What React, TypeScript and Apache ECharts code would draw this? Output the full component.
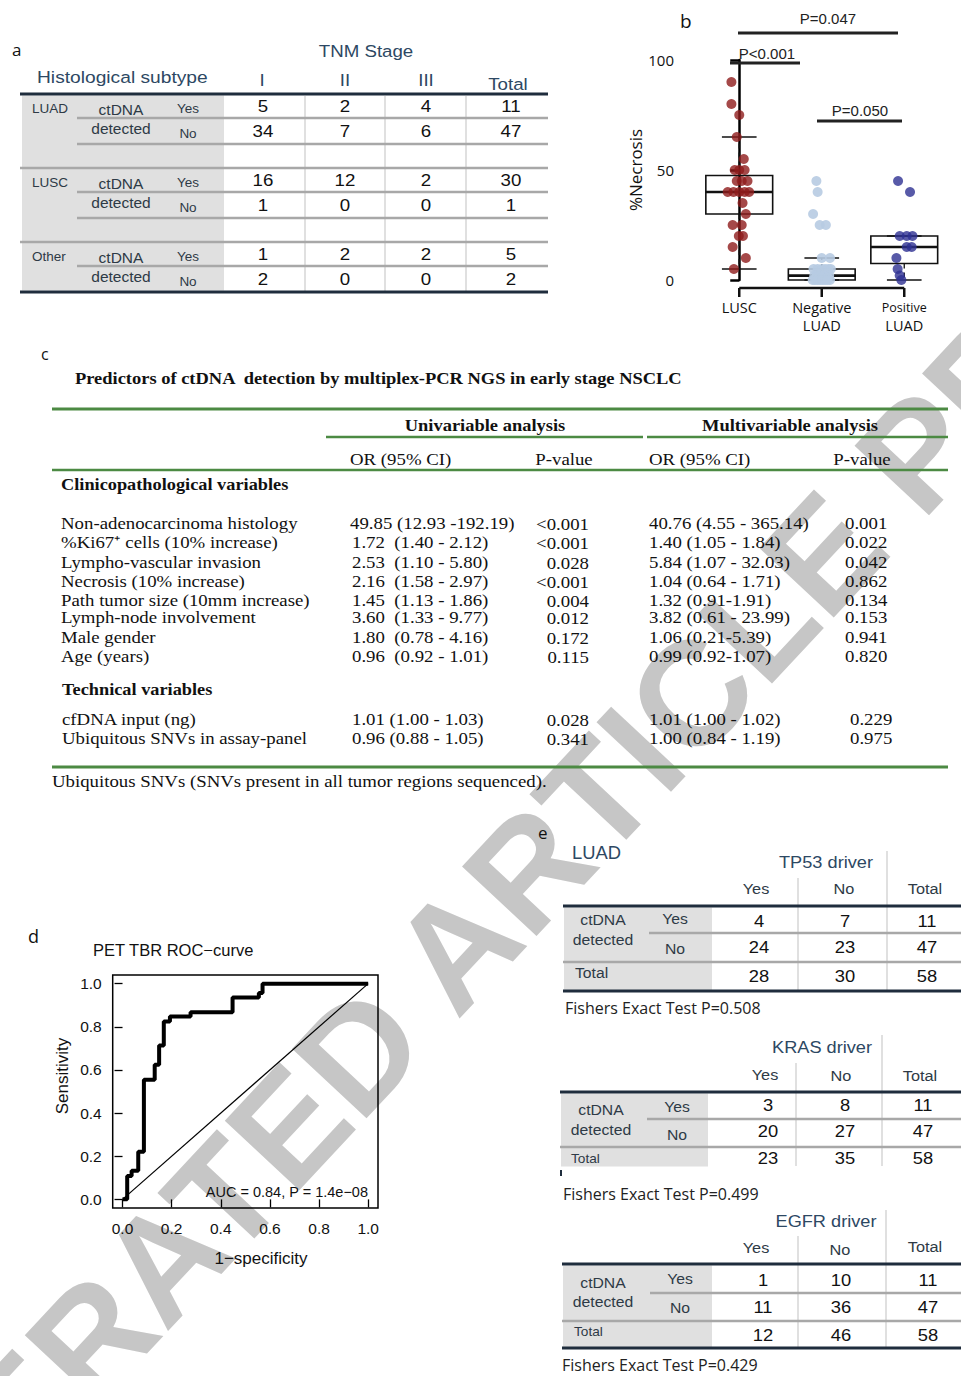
import React, { useEffect, useRef } from "react";
import * as echarts from "echarts";

// ---------------- Panel a data ----------------
const tnmStages = ["I", "II", "III", "Total"];
const histGroups = ["LUAD", "LUSC", "Other"];
const detectedLevels = ["Yes", "No"];
const tnmLUAD = [[5, 2, 4, 11], [34, 7, 6, 47]];
const tnmLUSC = [[16, 12, 2, 30], [1, 0, 0, 1]];
const tnmOther = [[1, 2, 2, 5], [2, 0, 0, 2]];

// ---------------- Panel b data ----------------
const necrosisGroups = ["LUSC", "Negative LUAD", "Positive LUAD"];
// [lower whisker, Q1, median, Q3, upper whisker]
const boxLUSC = [5, 30, 40, 47.5, 65];
const boxNeg = [0, 0, 2, 5, 10];
const boxPos = [0, 7.5, 15, 20, 20];
const luscNecrosis = [90, 80, 75, 65, 55, 50, 50, 50, 45, 45, 45, 40, 40, 40, 40, 40, 35, 30, 25, 25, 20, 20, 15, 10, 5];
const luscJitter = [-0.095, -0.095, 0, -0.03, 0.055, -0.055, 0, 0.065, -0.03, 0.03, 0.1, -0.14, -0.07, 0, 0.065, 0.12, 0.04, 0.08, -0.08, 0.03, -0.005, 0.045, -0.08, 0.08, -0.065];
const negNecrosis = [45, 40, 30, 25, 25, 10, 10, 5, 5, 5, 5, 5, 5, 3, 3, 2, 2, 2, 2, 1, 1, 1, 0, 0, 0, 0, 0, 0, 0, 0];
const negJitter = [-0.065, -0.05, -0.105, -0.025, 0.05, 0, 0.1, -0.1, -0.05, 0, 0.04, 0.08, 0.11, -0.06, 0.06, -0.09, -0.02, 0.03, 0.09, -0.07, 0, 0.07, -0.11, -0.08, -0.05, -0.02, 0.01, 0.04, 0.07, 0.1];
const posNecrosis = [45, 40, 20, 20, 20, 15, 15, 10, 5, 2, 0];
const posJitter = [-0.075, 0.07, -0.055, 0.03, 0.1, 0.03, 0.09, -0.095, -0.08, -0.055, -0.035];
const sigLabels = ["P=0.047", "P<0.001", "P=0.050"];

// ---------------- Panel c data ----------------
const cTitle = "Predictors of ctDNA  detection by multiplex-PCR NGS in early stage NSCLC";
const analysisHeads = ["Univariable analysis", "Multivariable analysis"];
const statHeads = ["OR (95% CI)", "P-value"];
const sectionHeads = ["Clinicopathological variables", "Technical variables"];
const clinVars = ["Non-adenocarcinoma histology", "%Ki67\u207A cells (10% increase)", "Lympho-vascular invasion", "Necrosis (10% increase)", "Path tumor size (10mm increase)", "Lymph-node involvement", "Male gender", "Age (years)"];
const clinOrUni = ["49.85 (12.93 -192.19)", "1.72\u00A0 (1.40 - 2.12)", "2.53\u00A0 (1.10 - 5.80)", "2.16\u00A0 (1.58 - 2.97)", "1.45\u00A0 (1.13 - 1.86)", "3.60\u00A0 (1.33 - 9.77)", "1.80\u00A0 (0.78 - 4.16)", "0.96\u00A0 (0.92 - 1.01)"];
const clinPUni = ["<0.001", "<0.001", "0.028", "<0.001", "0.004", "0.012", "0.172", "0.115"];
const clinOrMulti = ["40.76 (4.55 - 365.14)", "1.40 (1.05 - 1.84)", "5.84 (1.07 - 32.03)", "1.04 (0.64 - 1.71)", "1.32 (0.91-1.91)", "3.82 (0.61 - 23.99)", "1.06 (0.21-5.39)", "0.99 (0.92-1.07)"];
const clinPMulti = ["0.001", "0.022", "0.042", "0.862", "0.134", "0.153", "0.941", "0.820"];
const techVars = ["cfDNA input (ng)", "Ubiquitous SNVs in assay-panel"];
const techOrUni = ["1.01 (1.00 - 1.03)", "0.96 (0.88 - 1.05)"];
const techPUni = ["0.028", "0.341"];
const techOrMulti = ["1.01 (1.00 - 1.02)", "1.00 (0.84 - 1.19)"];
const techPMulti = ["0.229", "0.975"];
const cFootnote = "Ubiquitous SNVs (SNVs present in all tumor regions sequenced).";

// ---------------- Panel d data ----------------
const rocFpr = [0, 0.019, 0.037, 0.064, 0.087, 0.131, 0.149, 0.168, 0.193, 0.277, 0.448, 0.555, 0.57, 1.0];
const rocTpr = [0, 0.108, 0.133, 0.221, 0.554, 0.624, 0.713, 0.825, 0.848, 0.867, 0.936, 0.957, 1.0, 1.0];
const rocTicks = [0, 0.2, 0.4, 0.6, 0.8, 1.0];
const rocTitle = "PET TBR ROC\u2212curve";
const rocAuc = "AUC = 0.84, P = 1.4e\u221208";

// ---------------- Panel e data ----------------
const driverGenes = ["TP53", "KRAS", "EGFR"];
const driverCols = ["Yes", "No", "Total"];
const tp53Counts = [[4, 7, 11], [24, 23, 47], [28, 30, 58]];
const krasCounts = [[3, 8, 11], [20, 27, 47], [23, 35, 58]];
const egfrCounts = [[1, 10, 11], [11, 36, 47], [12, 46, 58]];
const fisherP = ["0.508", "0.499", "0.429"];

const watermark = "ACCELERATED ARTICLE PREVIEW";

// ---------------- styles ----------------
const SANS = "'Liberation Sans', Arial, Helvetica, sans-serif";
const SERIF = "'Liberation Serif', 'Times New Roman', serif";
const UI = "'Open Sans', 'Noto Sans', sans-serif";
const NAVY = "#1f2d3d";
const HEAD = "#2d4863";
const LABEL = "#2e3a46";
const SHADE = "#e0e0e0";
const GRAYLINE = "#a8a8a8";
const VLINE = "#e0e0e0";
const GREEN = "#4c8a43";

type TOpt = { size?: number; family?: string; weight?: string; color?: string; align?: string; valign?: string; sx?: number; rot?: number; z?: number };
function T(x: number, y: number, text: string, o: TOpt = {}) {
  return {
    type: "text",
    x,
    y,
    z: o.z ?? 10,
    scaleX: o.sx ?? 1,
    rotation: o.rot ?? 0,
    silent: true,
    style: {
      text,
      fill: o.color ?? "#111",
      font: `${o.weight ?? "normal"} ${o.size ?? 16}px ${o.family ?? SANS}`,
      textAlign: o.align ?? "left",
      textVerticalAlign: o.valign ?? "middle",
    },
  };
}
function L(x1: number, y1: number, x2: number, y2: number, stroke: string, lineWidth: number, z = 8) {
  return { type: "line", z, silent: true, shape: { x1, y1, x2, y2 }, style: { stroke, lineWidth } };
}
function R(x: number, y: number, width: number, height: number, fill: string, z = 1) {
  return { type: "rect", z, silent: true, shape: { x, y, width, height }, style: { fill } };
}

function panelA(els: any[]) {
  const cols = [263, 345, 426, 511];
  const tops = [95, 169, 243];
  const tables = [tnmLUAD, tnmLUSC, tnmOther];
  els.push(T(12, 49, "a", { size: 17, family: UI }));
  els.push(T(366, 51, "TNM Stage", { size: 17, color: HEAD, align: "center", sx: 1.1 }));
  els.push(T(37, 77, "Histological subtype", { size: 17, color: HEAD, sx: 1.13 }));
  const headX = [262, 345, 426, 508];
  const headY = [80, 80, 80, 84];
  tnmStages.forEach((s, i) => els.push(T(headX[i], headY[i], s, { size: 17, color: HEAD, align: "center", sx: 1.1 })));
  els.push(R(22, 95.5, 202, 195, SHADE, 1));
  [305, 385, 466].forEach((x) => els.push(L(x, 96, x, 291, VLINE, 2, 2)));
  els.push(L(20, 94, 548, 94, NAVY, 3, 9));
  tops.forEach((top, g) => {
    els.push(T(32, top + 13, histGroups[g], { size: 13.5, color: LABEL }));
    els.push(T(121, top + 14, "ctDNA", { size: 15.5, color: LABEL, align: "center" }));
    els.push(T(121, top + 33, "detected", { size: 15.5, color: LABEL, align: "center" }));
    els.push(T(188, top + 13, detectedLevels[0], { size: 13.5, color: LABEL, align: "center" }));
    els.push(T(188, top + 38, detectedLevels[1], { size: 13.5, color: LABEL, align: "center" }));
    tables[g].forEach((row, ri) =>
      row.forEach((v, ci) => els.push(T(cols[ci], top + (ri === 0 ? 11 : 36), String(v), { size: 17, align: "center", sx: 1.1 })))
    );
    els.push(L(77, top + 23, 548, top + 23, GRAYLINE, 2.5));
    if (g < 2) {
      els.push(L(77, top + 49, 548, top + 49, GRAYLINE, 2.5));
      els.push(L(20, top + 73, 548, top + 73, GRAYLINE, 2.5));
    } else {
      els.push(L(20, top + 49, 548, top + 49, NAVY, 3, 9));
    }
  });
}

function panelBAnnot(els: any[]) {
  els.push(T(680, 21, "b", { size: 19, family: UI }));
  const bars = [
    { x1: 738, x2: 898, y: 33, ty: 18, cx: 828 },
    { x1: 730, x2: 800, y: 63, ty: 53, cx: 767 },
    { x1: 817, x2: 902, y: 121, ty: 110, cx: 860 },
  ];
  bars.forEach((b, i) => {
    els.push(L(b.x1, b.y, b.x2, b.y, "#222", 3));
    els.push(T(b.cx, b.ty, sigLabels[i], { size: 15, color: "#222", align: "center" }));
  });
}

function panelC(els: any[]) {
  const sx = 1.14;
  const fs = 16.5;
  els.push(T(41, 354, "c", { size: 16, family: UI }));
  els.push(T(75, 378, cTitle, { size: 17.5, weight: "bold", family: SERIF, sx: 1.055 }));
  els.push(L(52, 409, 948, 409, GREEN, 3));
  els.push(T(485, 425, analysisHeads[0], { size: fs, weight: "bold", family: SERIF, align: "center", sx: 1.12 }));
  els.push(T(790, 425, analysisHeads[1], { size: fs, weight: "bold", family: SERIF, align: "center", sx: 1.12 }));
  els.push(L(326, 437, 643, 437, GREEN, 2.5));
  els.push(L(647, 437, 948, 437, GREEN, 2.5));
  els.push(T(350, 459, statHeads[0], { size: fs, family: SERIF, sx }));
  els.push(T(564, 459, statHeads[1], { size: fs, family: SERIF, sx, align: "center" }));
  els.push(T(649, 459, statHeads[0], { size: fs, family: SERIF, sx }));
  els.push(T(862, 459, statHeads[1], { size: fs, family: SERIF, sx, align: "center" }));
  els.push(L(52, 470, 948, 470, GREEN, 2.5));
  els.push(T(61, 484, sectionHeads[0], { size: fs, weight: "bold", family: SERIF, sx: 1.11 }));
  const clinY = [523, 542, 562, 581, 600, 617, 637, 656];
  clinVars.forEach((v, i) => {
    const y = clinY[i];
    els.push(T(61, y, v, { size: fs, family: SERIF, sx }));
    els.push(T(i === 0 ? 350 : 352, y, clinOrUni[i], { size: fs, family: SERIF, sx }));
    els.push(T(589, y + 1, clinPUni[i], { size: fs, family: SERIF, sx, align: "right" }));
    els.push(T(649, y, clinOrMulti[i], { size: fs, family: SERIF, sx }));
    els.push(T(845, y, clinPMulti[i], { size: fs, family: SERIF, sx }));
  });
  els.push(T(62, 689, sectionHeads[1], { size: fs, weight: "bold", family: SERIF, sx: 1.11 }));
  const techY = [719, 738];
  techVars.forEach((v, i) => {
    const y = techY[i];
    els.push(T(62, y, v, { size: fs, family: SERIF, sx }));
    els.push(T(352, y, techOrUni[i], { size: fs, family: SERIF, sx }));
    els.push(T(589, y + 1, techPUni[i], { size: fs, family: SERIF, sx, align: "right" }));
    els.push(T(649, y, techOrMulti[i], { size: fs, family: SERIF, sx }));
    els.push(T(850, y, techPMulti[i], { size: fs, family: SERIF, sx }));
  });
  els.push(L(52, 767, 948, 767, GREEN, 3));
  els.push(T(52, 781, cFootnote, { size: fs, family: SERIF, sx }));
}

function panelDAnnot(els: any[]) {
  els.push(T(28, 936, "d", { size: 18, family: UI }));
  els.push(T(93, 950, rocTitle, { size: 16.5 }));
  els.push(T(62, 1076, "Sensitivity", { size: 17, align: "center", rot: Math.PI / 2 }));
  els.push(T(261, 1258, "1\u2212specificity", { size: 17, align: "center" }));
  els.push(T(368, 1192, rocAuc, { size: 14.5, align: "right" }));
}

function panelE(els: any[]) {
  els.push(T(538, 832, "e", { size: 17, family: UI }));
  els.push(T(572, 853, "LUAD", { size: 17.5, color: HEAD, sx: 1.05 }));
  const lay = [
    { titleY: 862, titleX: 826, headY: [889, 889, 889], headX: [756, 844, 925], colX: [759, 845, 927], top: 906, left: 563, shadeR: 712, rowY: [921, 947, 976], mid: 933, midL: 649, tot: 962, bottom: 991, bottomLine: true, v: [[798, 878], [887, 851]], ctX: 603, ctY: [920, 940], ynX: 675, ynY: [919, 949], totX: 575, totY: 973, totSize: 15, fY: 1008, fX: 565 },
    { titleY: 1047, titleX: 822, headY: [1075, 1076, 1076], headX: [765, 841, 920], colX: [768, 845, 923], top: 1092, left: 560, shadeR: 708, rowY: [1105, 1131, 1158], mid: 1119, midL: 647, tot: 1147, bottom: 1167, bottomLine: false, v: [[796, 1063], [882, 1035]], ctX: 601, ctY: [1110, 1130], ynX: 677, ynY: [1107, 1135], totX: 571, totY: 1159, totSize: 13, fY: 1194, fX: 563 },
    { titleY: 1221, titleX: 826, headY: [1248, 1250, 1247], headX: [756, 840, 925], colX: [763, 841, 928], top: 1264, left: 562, shadeR: 712, rowY: [1280, 1307, 1335], mid: 1293, midL: 650, tot: 1321, bottom: 1348, bottomLine: true, v: [[798, 1236], [886, 1210]], ctX: 603, ctY: [1283, 1302], ynX: 680, ynY: [1279, 1308], totX: 574, totY: 1332, totSize: 13, fY: 1365, fX: 562 },
  ];
  const tables = [tp53Counts, krasCounts, egfrCounts];
  lay.forEach((t, k) => {
    els.push(T(t.titleX, t.titleY, `${driverGenes[k]} driver`, { size: 17, color: HEAD, align: "center", sx: 1.07 }));
    driverCols.forEach((c, i) => els.push(T(t.headX[i], t.headY[i], c, { size: 15.5, color: LABEL, align: "center", sx: 1.05 })));
    els.push(R(t.left + 1, t.top + 1.5, t.shadeR - t.left - 1, t.bottom - t.top - 2, SHADE, 1));
    els.push(L(t.v[0][0], t.v[0][1], t.v[0][0], t.bottom - 1, VLINE, 2, 2));
    els.push(L(t.v[1][0], t.v[1][1], t.v[1][0], t.bottom - 1, VLINE, 2, 2));
    els.push(L(t.left, t.top, 961, t.top, NAVY, 3, 9));
    els.push(L(t.midL, t.mid, 961, t.mid, GRAYLINE, 2.5));
    els.push(L(t.left, t.tot, 961, t.tot, GRAYLINE, 2.5));
    if (t.bottomLine) els.push(L(t.left, t.bottom, 961, t.bottom, NAVY, 3, 9));
    else els.push(L(t.left + 1, t.bottom + 3, t.left + 1, t.bottom + 9, NAVY, 2, 9));
    els.push(T(t.ctX, t.ctY[0], "ctDNA", { size: 15, color: LABEL, align: "center", sx: 1.05 }));
    els.push(T(t.ctX, t.ctY[1], "detected", { size: 15, color: LABEL, align: "center", sx: 1.05 }));
    els.push(T(t.ynX, t.ynY[0], detectedLevels[0], { size: 15, color: LABEL, align: "center", sx: 1.05 }));
    els.push(T(t.ynX, t.ynY[1], detectedLevels[1], { size: 15, color: LABEL, align: "center", sx: 1.05 }));
    els.push(T(t.totX, t.totY, "Total", { size: t.totSize, color: LABEL, sx: 1.05 }));
    tables[k].forEach((row, ri) =>
      row.forEach((v, ci) => els.push(T(t.colX[ci], t.rowY[ri], String(v), { size: 17, align: "center", sx: 1.08 })))
    );
    els.push(T(t.fX, t.fY, `Fishers Exact Test P=${fisherP[k]}`, { size: 16, family: UI, color: "#222" }));
  });
}

function buildOption() {
  const els: any[] = [];
  // watermark (below everything)
  els.push(T(495, 905, watermark, { size: 148, weight: "bold", color: "#c6c6c6", align: "center", rot: (47 * Math.PI) / 180, z: -1 }));
  panelA(els);
  panelBAnnot(els);
  panelC(els);
  panelDAnnot(els);
  panelE(els);

  const boxes = [boxLUSC, boxNeg, boxPos].map((s, i) => [i, ...s]);
  const renderBox = (params: any, api: any) => {
    const i = api.value(0);
    const lo = api.value(1), q1 = api.value(2), med = api.value(3), q3 = api.value(4), hi = api.value(5);
    const band = api.size([1, 0])[0];
    const hw = band * 0.405, cw = band * 0.21;
    const x = api.coord([i, med])[0];
    const y = (v: number) => api.coord([i, v])[1];
    const ch: any[] = [
      { type: "rect", shape: { x: x - hw, y: y(q3), width: 2 * hw, height: y(q1) - y(q3) }, style: { fill: "none", stroke: "#111", lineWidth: 1.6 } },
      { type: "line", shape: { x1: x - hw, y1: y(med), x2: x + hw, y2: y(med) }, style: { stroke: "#111", lineWidth: 2.6 } },
      { type: "line", shape: { x1: x - cw, y1: y(hi), x2: x + cw, y2: y(hi) }, style: { stroke: "#111", lineWidth: 1.6 } },
      { type: "line", shape: { x1: x - cw, y1: y(lo), x2: x + cw, y2: y(lo) }, style: { stroke: "#111", lineWidth: 1.6 } },
    ];
    if (hi > q3) ch.push({ type: "line", shape: { x1: x, y1: y(q3), x2: x, y2: y(hi) }, style: { stroke: "#111", lineWidth: 1.3, lineDash: [5, 4] } });
    if (lo < q1) ch.push({ type: "line", shape: { x1: x, y1: y(q1), x2: x, y2: y(lo) }, style: { stroke: "#111", lineWidth: 1.3, lineDash: [5, 4] } });
    return { type: "group", children: ch };
  };
  const renderBracket = (params: any, api: any) => {
    const a = api.value(0), b = api.value(1);
    const ch: any[] = [];
    const pa = api.coord([a, 0]), pb = api.coord([b, 0]);
    const yy = pa[1] + 8;
    ch.push({ type: "line", shape: { x1: pa[0], y1: yy, x2: pb[0], y2: yy }, style: { stroke: "#111", lineWidth: 2.5 } });
    for (let k = a; k <= b; k++) {
      const p = api.coord([k, 0]);
      ch.push({ type: "line", shape: { x1: p[0], y1: yy, x2: p[0], y2: yy + 9 }, style: { stroke: "#111", lineWidth: 2.5 } });
    }
    return { type: "group", children: ch };
  };

  return {
    animation: false,
    backgroundColor: "#fff",
    textStyle: { fontFamily: SANS },
    graphic: { elements: els },
    grid: [
      { left: 698, top: 60, width: 247.5, height: 220 },
      { left: 112.7, top: 975, width: 265.3, height: 233, show: true, borderColor: "#000", borderWidth: 1.5, backgroundColor: "rgba(0,0,0,0)" },
    ],
    xAxis: [
      {
        gridIndex: 0,
        type: "category",
        data: necrosisGroups,
        axisLine: { show: false },
        axisTick: { show: false },
        axisLabel: {
          interval: 0,
          margin: 19,
          formatter: (v: string) => {
            const parts = v.split(" ");
            if (parts.length === 1) return `{a|${v}}`;
            return `{${parts[0] === "Positive" ? "s" : "a"}|${parts[0]}}\n{a|${parts[1]}}`;
          },
          rich: {
            a: { fontSize: 14.5, fontFamily: UI, color: "#111", lineHeight: 17.5 },
            s: { fontSize: 12.5, fontFamily: UI, color: "#111", lineHeight: 17.5 },
          },
        },
      },
      { gridIndex: 0, type: "value", min: -0.5, max: 2.5, show: false },
      {
        gridIndex: 1,
        type: "value",
        min: -0.04,
        max: 1.04,
        z: 5,
        splitLine: { show: false },
        axisLine: { show: false },
        axisTick: { show: true, customValues: rocTicks, length: 8, lineStyle: { color: "#000", width: 1.3 } },
        axisLabel: { customValues: rocTicks, formatter: (v: number) => v.toFixed(1), fontSize: 15.5, color: "#111", margin: 12 },
      },
    ],
    yAxis: [
      {
        gridIndex: 0,
        type: "value",
        min: 0,
        max: 100,
        interval: 50,
        offset: 8,
        splitLine: { show: false },
        axisLine: { show: true, lineStyle: { color: "#000", width: 2.5 } },
        axisTick: { show: true, length: 9, lineStyle: { color: "#000", width: 2.5 } },
        axisLabel: { fontSize: 15, color: "#111", margin: 16, fontFamily: UI },
        name: "%Necrosis",
        nameLocation: "middle",
        nameGap: 30,
        nameTextStyle: { fontSize: 17, color: "#111", fontFamily: UI },
      },
      {
        gridIndex: 1,
        type: "value",
        min: -0.04,
        max: 1.04,
        z: 5,
        splitLine: { show: false },
        axisLine: { show: false },
        axisTick: { show: true, customValues: rocTicks, length: 8, lineStyle: { color: "#000", width: 1.3 } },
        axisLabel: { customValues: rocTicks, formatter: (v: number) => v.toFixed(1), fontSize: 15.5, color: "#111", margin: 11 },
      },
    ],
    series: [
      { type: "custom", name: "boxes", xAxisIndex: 1, yAxisIndex: 0, z: 3, clip: false, encode: { x: 0, y: [1, 2, 3, 4, 5] }, data: boxes, renderItem: renderBox, silent: true },
      { type: "custom", name: "bracket", xAxisIndex: 1, yAxisIndex: 0, z: 3, clip: false, encode: { x: 0, y: 1 }, data: [[0, 2]], renderItem: renderBracket, silent: true },
      { type: "scatter", name: necrosisGroups[0], xAxisIndex: 1, yAxisIndex: 0, z: 4, symbolSize: 10, itemStyle: { color: "#8e1b1b" }, data: luscNecrosis.map((v, k) => [0 + luscJitter[k], v]), silent: true },
      { type: "scatter", name: necrosisGroups[1], xAxisIndex: 1, yAxisIndex: 0, z: 4, symbolSize: 10, itemStyle: { color: "#b7cbe2", opacity: 0.9 }, data: negNecrosis.map((v, k) => [1 + negJitter[k], v]), silent: true },
      { type: "scatter", name: necrosisGroups[2], xAxisIndex: 1, yAxisIndex: 0, z: 4, symbolSize: 10, itemStyle: { color: "#2e3192" }, data: posNecrosis.map((v, k) => [2 + posJitter[k], v]), silent: true },
      { type: "line", name: "diag", xAxisIndex: 2, yAxisIndex: 1, z: 3, symbol: "none", lineStyle: { color: "#000", width: 1.2 }, data: [[0, 0], [1, 1]], silent: true },
      { type: "line", name: "ROC", xAxisIndex: 2, yAxisIndex: 1, z: 4, step: "end", symbol: "none", lineStyle: { color: "#000", width: 4 }, data: rocFpr.map((x, k) => [x, rocTpr[k]]), silent: true },
    ],
  };
}

export default function App() {
  const ref = useRef<HTMLDivElement>(null);
  useEffect(() => {
    const chart = echarts.init(ref.current!, null, { renderer: "svg" });
    chart.setOption(buildOption() as any);
    return () => chart.dispose();
  }, []);
  return <div ref={ref} style={{ position: "absolute", left: 0, top: 0, width: 961, height: 1376, background: "#fff" }} />;
}
